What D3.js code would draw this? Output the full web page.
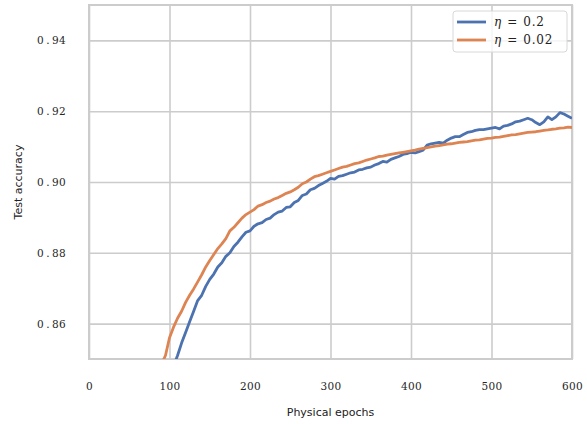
<!DOCTYPE html>
<html>
<head>
<meta charset="utf-8">
<script src="https://cdn.jsdelivr.net/npm/d3@7"></script>
<style>
  body { margin: 0; background: #fff; }
  svg { display: block; }
</style>
</head>
<body>
<div id="chart"></div>
<script>
// x positions (epochs) of the sampled points
const epochsOrange = [90, 95, 100, 105, 110, 115, 120, 125, 130, 135, 140, 145, 150, 155, 160, 165, 170, 175, 180, 185, 190, 195,
  200, 205, 210, 215, 220, 225, 230, 235, 240, 245, 250, 255, 260, 265, 270, 275, 280, 285, 290, 295,
  300, 305, 310, 315, 320, 325, 330, 335, 340, 345, 350, 355, 360, 365, 370, 375, 380, 385, 390, 395,
  400, 405, 410, 415, 420, 425, 430, 435, 440, 445, 450, 455, 460, 465, 470, 475, 480, 485, 490, 495,
  500, 505, 510, 515, 520, 525, 530, 535, 540, 545, 550, 555, 560, 565, 570, 575, 580, 585, 590, 595, 600];
const accOrange = [0.8485, 0.8510, 0.8560, 0.8590, 0.8615, 0.8635, 0.8660, 0.8680, 0.8698, 0.8718, 0.8738, 0.8760, 0.8778, 0.8795, 0.8812, 0.8825, 0.8840, 0.8862, 0.8872, 0.8885, 0.8898, 0.8908,
  0.8915, 0.8922, 0.8932, 0.8936, 0.8942, 0.8946, 0.8952, 0.8956, 0.8962, 0.8968, 0.8972, 0.8978, 0.8985, 0.8995, 0.9000, 0.9008, 0.9015, 0.9018, 0.9022, 0.9026,
  0.9030, 0.9034, 0.9038, 0.9042, 0.9044, 0.9048, 0.9052, 0.9054, 0.9058, 0.9062, 0.9065, 0.9068, 0.9072, 0.9073, 0.9076, 0.9078, 0.9080, 0.9082, 0.9084, 0.9086,
  0.9088, 0.9090, 0.9093, 0.9095, 0.9097, 0.9099, 0.9101, 0.9103, 0.9105, 0.9107, 0.9108, 0.9110, 0.9112, 0.9113, 0.9114, 0.9116, 0.9118, 0.9119, 0.9121, 0.9123,
  0.9124, 0.9126, 0.9127, 0.9129, 0.9131, 0.9133, 0.9134, 0.9136, 0.9138, 0.9140, 0.9141, 0.9142, 0.9144, 0.9146, 0.9147, 0.9149, 0.9150, 0.9152, 0.9153, 0.9155, 0.9154];

const epochsBlue = [105, 110, 115, 120, 125, 130, 135, 140, 145, 150, 155, 160, 165, 170, 175, 180, 185, 190, 195,
  200, 205, 210, 215, 220, 225, 230, 235, 240, 245, 250, 255, 260, 265, 270, 275, 280, 285, 290, 295,
  300, 305, 310, 315, 320, 325, 330, 335, 340, 345, 350, 355, 360, 365, 370, 375, 380, 385, 390, 395,
  400, 405, 410, 415, 420, 425, 430, 435, 440, 445, 450, 455, 460, 465, 470, 475, 480, 485, 490, 495,
  500, 505, 510, 515, 520, 525, 530, 535, 540, 545, 550, 555, 560, 565, 570, 575, 580, 585, 590, 595, 600];
const accBlue = [0.8480, 0.8510, 0.8545, 0.8575, 0.8605, 0.8635, 0.8665, 0.8680, 0.8705, 0.8725, 0.8740, 0.8760, 0.8772, 0.8790, 0.8800, 0.8818, 0.8830, 0.8845, 0.8858,
  0.8862, 0.8875, 0.8882, 0.8885, 0.8894, 0.8898, 0.8908, 0.8915, 0.8918, 0.8928, 0.8930, 0.8942, 0.8948, 0.8962, 0.8966, 0.8978, 0.8982, 0.8990, 0.8996, 0.9002,
  0.9010, 0.9008, 0.9016, 0.9018, 0.9022, 0.9026, 0.9028, 0.9034, 0.9036, 0.9040, 0.9042, 0.9048, 0.9052, 0.9058, 0.9056, 0.9064, 0.9068, 0.9072, 0.9078, 0.9080,
  0.9084, 0.9082, 0.9086, 0.9090, 0.9104, 0.9108, 0.9110, 0.9112, 0.9110, 0.9118, 0.9124, 0.9128, 0.9128, 0.9134, 0.9140, 0.9142, 0.9146, 0.9148, 0.9148, 0.9150,
  0.9152, 0.9154, 0.9150, 0.9158, 0.9160, 0.9164, 0.9170, 0.9172, 0.9176, 0.9180, 0.9176, 0.9168, 0.9162, 0.9170, 0.9184, 0.9176, 0.9184, 0.9196, 0.9192, 0.9186, 0.9180];

const xTicks = [0, 100, 200, 300, 400, 500, 600];
const yTicks = [0.86, 0.88, 0.90, 0.92, 0.94];
const seriesNames = ["0.2", "0.02"];
const seriesColors = ["#4c72b0", "#dd8452"];

const W = 587, H = 424;
const plot = { left: 89, right: 572, top: 5, bottom: 359 };

const x = d3.scaleLinear().domain([0, 600]).range([plot.left, plot.right]);
const y = d3.scaleLinear().domain([0.85, 0.95]).range([plot.bottom, plot.top]);

const svg = d3.select("#chart").append("svg")
  .attr("width", W)
  .attr("height", H);

svg.append("defs").append("clipPath").attr("id", "clip")
  .append("rect")
  .attr("x", plot.left).attr("y", plot.top)
  .attr("width", plot.right - plot.left).attr("height", plot.bottom - plot.top);

// grid lines + x tick labels
svg.append("g")
  .attr("transform", `translate(0,${plot.bottom})`)
  .call(d3.axisBottom(x).tickValues(xTicks).tickSize(-(plot.bottom - plot.top)).tickFormat(d3.format("d")))
  .call(g => g.select(".domain").remove())
  .call(g => g.selectAll("line").attr("stroke", "#cccccc").attr("stroke-width", 1.6))
  .call(g => g.selectAll("text")
    .attr("fill", "#262626").attr("font-family", "DejaVu Serif").attr("font-size", 10.5)
    .attr("letter-spacing", 0.3).attr("dy", 0).attr("y", 31));

// y grid lines + tick labels
const yAxis = svg.append("g")
  .attr("transform", `translate(${plot.left},0)`)
  .call(d3.axisLeft(y).tickValues(yTicks).tickSize(-(plot.right - plot.left)).tickFormat(d3.format(".2f")))
  .call(g => g.select(".domain").remove())
  .call(g => g.selectAll("line").attr("stroke", "#cccccc").attr("stroke-width", 1.6));

// mathtext puts space around the decimal point
yAxis.selectAll(".tick text").each(function (d) {
  const s = d3.format(".2f")(d).split(".");
  const t = d3.select(this).text("")
    .attr("fill", "#262626").attr("font-family", "DejaVu Serif").attr("font-size", 10.5)
    .attr("x", -23).attr("dy", "0.34em");
  t.append("tspan").text(s[0]);
  t.append("tspan").attr("dx", 2.5).text(".");
  t.append("tspan").attr("dx", 2.5).attr("letter-spacing", 0.3).text(s[1]);
});

// frame
svg.append("rect")
  .attr("x", plot.left).attr("y", plot.top)
  .attr("width", plot.right - plot.left).attr("height", plot.bottom - plot.top)
  .attr("fill", "none").attr("stroke", "#cccccc").attr("stroke-width", 2);

const line = d3.line()
  .x(d => x(d[0]))
  .y(d => y(d[1]));

const series = [
  d3.zip(epochsBlue, accBlue),
  d3.zip(epochsOrange, accOrange)
];

svg.append("g").attr("clip-path", "url(#clip)")
  .selectAll("path")
  .data(series)
  .enter()
  .append("path")
  .attr("fill", "none")
  .attr("stroke", (d, i) => seriesColors[i])
  .attr("stroke-width", 2.8)
  .attr("stroke-linejoin", "round")
  .attr("d", line);

// axis titles
svg.append("text")
  .attr("x", (plot.left + plot.right) / 2).attr("y", 416)
  .attr("text-anchor", "middle")
  .attr("font-family", "DejaVu Sans").attr("font-size", 11).attr("fill", "#222")
  .text("Physical epochs");

svg.append("text")
  .attr("transform", `translate(22,${(plot.top + plot.bottom) / 2}) rotate(-90)`)
  .attr("text-anchor", "middle")
  .attr("font-family", "DejaVu Sans").attr("font-size", 11).attr("fill", "#222")
  .text("Test accuracy");

// legend
const legend = svg.append("g");
legend.append("rect")
  .attr("x", 453).attr("y", 11).attr("width", 114).attr("height", 41)
  .attr("rx", 3)
  .attr("fill", "#fff").attr("fill-opacity", 0.8)
  .attr("stroke", "#d8d8d8").attr("stroke-width", 1);

seriesNames.forEach(function (name, i) {
  const ly = 22 + i * 18;
  legend.append("line")
    .attr("x1", 457).attr("x2", 486).attr("y1", ly).attr("y2", ly)
    .attr("stroke", seriesColors[i]).attr("stroke-width", 2.8);
  const t = legend.append("text")
    .attr("x", 494).attr("y", ly + 4)
    .attr("font-family", "DejaVu Serif").attr("font-size", 12).attr("fill", "#222");
  t.append("tspan").attr("font-style", "italic").text("η");
  t.append("tspan").attr("dx", 6).text("=");
  t.append("tspan").attr("dx", 6).attr("letter-spacing", 0.8).text(name);
});
</script>
</body>
</html>
